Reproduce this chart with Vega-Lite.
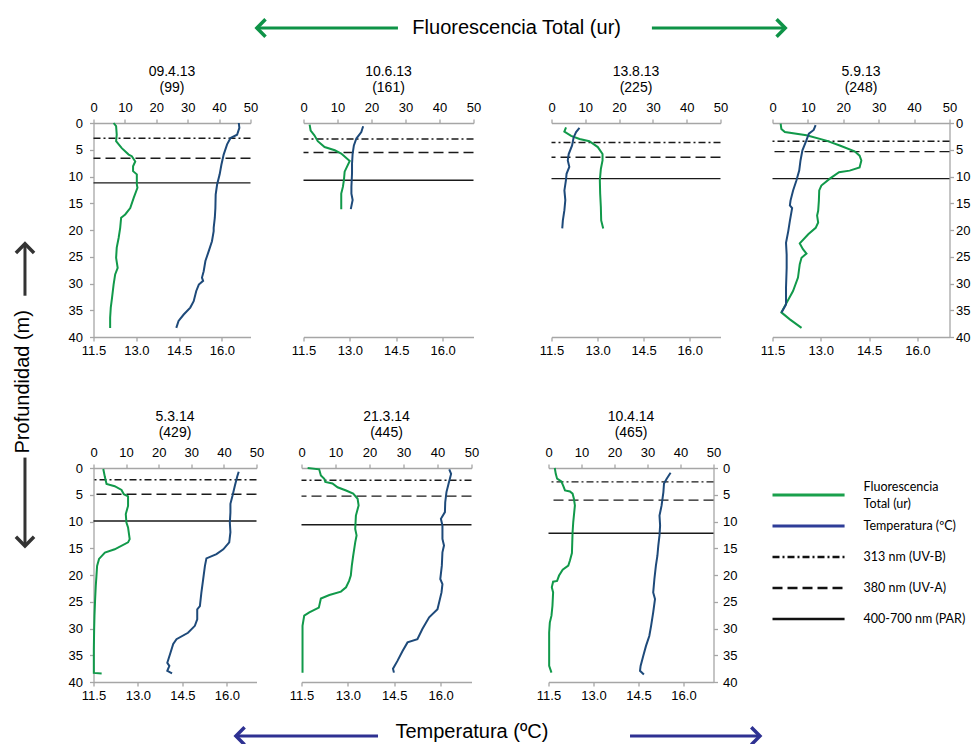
{
  "$schema": "https://vega.github.io/schema/vega-lite/v6.json",
  "padding": 0,
  "background": "white",
  "config": {
    "font": "Liberation Sans",
    "view": {"stroke": null},
    "axis": {
      "labelFont": "Liberation Sans",
      "labelFontSize": 13,
      "labelColor": "#000000",
      "domainColor": "#a6a6a6",
      "tickColor": "#a6a6a6",
      "domainWidth": 1.3,
      "tickWidth": 1.3,
      "tickSize": 4,
      "grid": false,
      "labelFlush": false,
      "labelOverlap": false
    },
    "title": {"font": "Liberation Sans", "fontSize": 14, "fontWeight": "normal", "color": "#000000", "lineHeight": 16, "offset": 6, "frame": "group", "anchor": "middle"}
  },
  "datasets": {
    "capas": [
      {"fecha": "09.4.13", "banda": "UV-B", "prof": 2.85},
      {"fecha": "09.4.13", "banda": "UV-A", "prof": 6.6},
      {"fecha": "09.4.13", "banda": "PAR", "prof": 11.2},
      {"fecha": "10.6.13", "banda": "UV-B", "prof": 3.0},
      {"fecha": "10.6.13", "banda": "UV-A", "prof": 5.5},
      {"fecha": "10.6.13", "banda": "PAR", "prof": 10.7},
      {"fecha": "13.8.13", "banda": "UV-B", "prof": 3.65},
      {"fecha": "13.8.13", "banda": "UV-A", "prof": 6.4},
      {"fecha": "13.8.13", "banda": "PAR", "prof": 10.4},
      {"fecha": "5.9.13", "banda": "UV-B", "prof": 3.4},
      {"fecha": "5.9.13", "banda": "UV-A", "prof": 5.35},
      {"fecha": "5.9.13", "banda": "PAR", "prof": 10.4},
      {"fecha": "5.3.14", "banda": "UV-B", "prof": 2.2},
      {"fecha": "5.3.14", "banda": "UV-A", "prof": 4.9},
      {"fecha": "5.3.14", "banda": "PAR", "prof": 9.9},
      {"fecha": "21.3.14", "banda": "UV-B", "prof": 2.3},
      {"fecha": "21.3.14", "banda": "UV-A", "prof": 5.25},
      {"fecha": "21.3.14", "banda": "PAR", "prof": 10.6},
      {"fecha": "10.4.14", "banda": "UV-B", "prof": 2.6},
      {"fecha": "10.4.14", "banda": "UV-A", "prof": 6.0},
      {"fecha": "10.4.14", "banda": "PAR", "prof": 12.2}
    ],
    "leyenda": [
      {"orden": 1, "tipo": "curva", "serie": "Fluorescencia", "etiqueta": "Fluorescencia\nTotal (ur)"},
      {"orden": 2, "tipo": "curva", "serie": "Temperatura", "etiqueta": "Temperatura (ºC)"},
      {"orden": 3, "tipo": "capa", "banda": "UV-B", "etiqueta": "313 nm (UV-B)"},
      {"orden": 4, "tipo": "capa", "banda": "UV-A", "etiqueta": "380 nm (UV-A)"},
      {"orden": 5, "tipo": "capa", "banda": "PAR", "etiqueta": "400-700 nm (PAR)"}
    ],
    "perfiles": [
      {"fecha": "09.4.13", "serie": "Fluorescencia", "prof": 0, "valor": 6.4},
      {"fecha": "09.4.13", "serie": "Fluorescencia", "prof": 0.6, "valor": 7.2},
      {"fecha": "09.4.13", "serie": "Fluorescencia", "prof": 2.2, "valor": 7.4},
      {"fecha": "09.4.13", "serie": "Fluorescencia", "prof": 3.4, "valor": 7.2},
      {"fecha": "09.4.13", "serie": "Fluorescencia", "prof": 4.7, "valor": 9.0},
      {"fecha": "09.4.13", "serie": "Fluorescencia", "prof": 5.9, "valor": 11.2},
      {"fecha": "09.4.13", "serie": "Fluorescencia", "prof": 6.2, "valor": 12.2},
      {"fecha": "09.4.13", "serie": "Fluorescencia", "prof": 7.2, "valor": 13.3},
      {"fecha": "09.4.13", "serie": "Fluorescencia", "prof": 8.1, "valor": 12.6},
      {"fecha": "09.4.13", "serie": "Fluorescencia", "prof": 9.0, "valor": 12.6},
      {"fecha": "09.4.13", "serie": "Fluorescencia", "prof": 9.6, "valor": 13.8},
      {"fecha": "09.4.13", "serie": "Fluorescencia", "prof": 11.5, "valor": 13.8},
      {"fecha": "09.4.13", "serie": "Fluorescencia", "prof": 12.1, "valor": 14.0},
      {"fecha": "09.4.13", "serie": "Fluorescencia", "prof": 14.0, "valor": 12.8},
      {"fecha": "09.4.13", "serie": "Fluorescencia", "prof": 15.9, "valor": 11.7},
      {"fecha": "09.4.13", "serie": "Fluorescencia", "prof": 17.1, "valor": 10.1},
      {"fecha": "09.4.13", "serie": "Fluorescencia", "prof": 17.7, "valor": 8.8},
      {"fecha": "09.4.13", "serie": "Fluorescencia", "prof": 19.6, "valor": 8.5},
      {"fecha": "09.4.13", "serie": "Fluorescencia", "prof": 21.5, "valor": 8.0},
      {"fecha": "09.4.13", "serie": "Fluorescencia", "prof": 23.3, "valor": 7.4},
      {"fecha": "09.4.13", "serie": "Fluorescencia", "prof": 25.2, "valor": 7.2},
      {"fecha": "09.4.13", "serie": "Fluorescencia", "prof": 27.1, "valor": 7.7},
      {"fecha": "09.4.13", "serie": "Fluorescencia", "prof": 28.3, "valor": 6.9},
      {"fecha": "09.4.13", "serie": "Fluorescencia", "prof": 30.2, "valor": 6.4},
      {"fecha": "09.4.13", "serie": "Fluorescencia", "prof": 32.7, "valor": 5.9},
      {"fecha": "09.4.13", "serie": "Fluorescencia", "prof": 34.5, "valor": 5.5},
      {"fecha": "09.4.13", "serie": "Fluorescencia", "prof": 36.4, "valor": 5.3},
      {"fecha": "09.4.13", "serie": "Fluorescencia", "prof": 38.3, "valor": 5.3},
      {"fecha": "09.4.13", "serie": "Temperatura", "prof": 0, "valor": 16.59},
      {"fecha": "09.4.13", "serie": "Temperatura", "prof": 0.9, "valor": 16.61},
      {"fecha": "09.4.13", "serie": "Temperatura", "prof": 2.2, "valor": 16.53},
      {"fecha": "09.4.13", "serie": "Temperatura", "prof": 2.8, "valor": 16.30},
      {"fecha": "09.4.13", "serie": "Temperatura", "prof": 4.0, "valor": 16.18},
      {"fecha": "09.4.13", "serie": "Temperatura", "prof": 5.9, "valor": 16.06},
      {"fecha": "09.4.13", "serie": "Temperatura", "prof": 7.8, "valor": 15.98},
      {"fecha": "09.4.13", "serie": "Temperatura", "prof": 9.6, "valor": 15.92},
      {"fecha": "09.4.13", "serie": "Temperatura", "prof": 11.5, "valor": 15.83},
      {"fecha": "09.4.13", "serie": "Temperatura", "prof": 13.4, "valor": 15.78},
      {"fecha": "09.4.13", "serie": "Temperatura", "prof": 15.9, "valor": 15.77},
      {"fecha": "09.4.13", "serie": "Temperatura", "prof": 17.7, "valor": 15.75},
      {"fecha": "09.4.13", "serie": "Temperatura", "prof": 19.6, "valor": 15.71},
      {"fecha": "09.4.13", "serie": "Temperatura", "prof": 20.2, "valor": 15.71},
      {"fecha": "09.4.13", "serie": "Temperatura", "prof": 22.1, "valor": 15.65},
      {"fecha": "09.4.13", "serie": "Temperatura", "prof": 23.9, "valor": 15.54},
      {"fecha": "09.4.13", "serie": "Temperatura", "prof": 25.8, "valor": 15.42},
      {"fecha": "09.4.13", "serie": "Temperatura", "prof": 27.7, "valor": 15.36},
      {"fecha": "09.4.13", "serie": "Temperatura", "prof": 28.9, "valor": 15.30},
      {"fecha": "09.4.13", "serie": "Temperatura", "prof": 29.5, "valor": 15.34},
      {"fecha": "09.4.13", "serie": "Temperatura", "prof": 30.2, "valor": 15.19},
      {"fecha": "09.4.13", "serie": "Temperatura", "prof": 31.4, "valor": 15.10},
      {"fecha": "09.4.13", "serie": "Temperatura", "prof": 33.3, "valor": 15.01},
      {"fecha": "09.4.13", "serie": "Temperatura", "prof": 34.5, "valor": 14.89},
      {"fecha": "09.4.13", "serie": "Temperatura", "prof": 35.8, "valor": 14.66},
      {"fecha": "09.4.13", "serie": "Temperatura", "prof": 37.0, "valor": 14.48},
      {"fecha": "09.4.13", "serie": "Temperatura", "prof": 38.3, "valor": 14.40},

      {"fecha": "10.6.13", "serie": "Fluorescencia", "prof": 0.3, "valor": 1.8},
      {"fecha": "10.6.13", "serie": "Fluorescencia", "prof": 1.4, "valor": 2.1},
      {"fecha": "10.6.13", "serie": "Fluorescencia", "prof": 2.3, "valor": 3.2},
      {"fecha": "10.6.13", "serie": "Fluorescencia", "prof": 3.4, "valor": 4.2},
      {"fecha": "10.6.13", "serie": "Fluorescencia", "prof": 4.5, "valor": 6.2},
      {"fecha": "10.6.13", "serie": "Fluorescencia", "prof": 5.1, "valor": 9.2},
      {"fecha": "10.6.13", "serie": "Fluorescencia", "prof": 5.7, "valor": 11.1},
      {"fecha": "10.6.13", "serie": "Fluorescencia", "prof": 7.1, "valor": 13.6},
      {"fecha": "10.6.13", "serie": "Fluorescencia", "prof": 9.1, "valor": 12.1},
      {"fecha": "10.6.13", "serie": "Fluorescencia", "prof": 10.6, "valor": 11.9},
      {"fecha": "10.6.13", "serie": "Fluorescencia", "prof": 11.9, "valor": 11.6},
      {"fecha": "10.6.13", "serie": "Fluorescencia", "prof": 13.2, "valor": 11.1},
      {"fecha": "10.6.13", "serie": "Fluorescencia", "prof": 16.1, "valor": 11.1},
      {"fecha": "10.6.13", "serie": "Temperatura", "prof": 0.6, "valor": 13.43},
      {"fecha": "10.6.13", "serie": "Temperatura", "prof": 1.7, "valor": 13.37},
      {"fecha": "10.6.13", "serie": "Temperatura", "prof": 2.9, "valor": 13.21},
      {"fecha": "10.6.13", "serie": "Temperatura", "prof": 4.2, "valor": 13.13},
      {"fecha": "10.6.13", "serie": "Temperatura", "prof": 5.7, "valor": 13.09},
      {"fecha": "10.6.13", "serie": "Temperatura", "prof": 7.6, "valor": 13.07},
      {"fecha": "10.6.13", "serie": "Temperatura", "prof": 9.4, "valor": 13.07},
      {"fecha": "10.6.13", "serie": "Temperatura", "prof": 11.9, "valor": 13.05},
      {"fecha": "10.6.13", "serie": "Temperatura", "prof": 13.2, "valor": 13.05},
      {"fecha": "10.6.13", "serie": "Temperatura", "prof": 14.4, "valor": 13.09},
      {"fecha": "10.6.13", "serie": "Temperatura", "prof": 16.1, "valor": 13.03},

      {"fecha": "13.8.13", "serie": "Fluorescencia", "prof": 0.8, "valor": 4.3},
      {"fecha": "13.8.13", "serie": "Fluorescencia", "prof": 1.6, "valor": 3.8},
      {"fecha": "13.8.13", "serie": "Fluorescencia", "prof": 2.4, "valor": 5.8},
      {"fecha": "13.8.13", "serie": "Fluorescencia", "prof": 3.0, "valor": 8.3},
      {"fecha": "13.8.13", "serie": "Fluorescencia", "prof": 3.4, "valor": 11.2},
      {"fecha": "13.8.13", "serie": "Fluorescencia", "prof": 4.5, "valor": 13.7},
      {"fecha": "13.8.13", "serie": "Fluorescencia", "prof": 5.8, "valor": 15.1},
      {"fecha": "13.8.13", "serie": "Fluorescencia", "prof": 7.0, "valor": 15.1},
      {"fecha": "13.8.13", "serie": "Fluorescencia", "prof": 8.6, "valor": 14.6},
      {"fecha": "13.8.13", "serie": "Fluorescencia", "prof": 10.7, "valor": 14.3},
      {"fecha": "13.8.13", "serie": "Fluorescencia", "prof": 13.2, "valor": 14.4},
      {"fecha": "13.8.13", "serie": "Fluorescencia", "prof": 15.7, "valor": 14.6},
      {"fecha": "13.8.13", "serie": "Fluorescencia", "prof": 18.2, "valor": 14.7},
      {"fecha": "13.8.13", "serie": "Fluorescencia", "prof": 19.7, "valor": 15.3},
      {"fecha": "13.8.13", "serie": "Temperatura", "prof": 0.9, "valor": 12.41},
      {"fecha": "13.8.13", "serie": "Temperatura", "prof": 1.7, "valor": 12.30},
      {"fecha": "13.8.13", "serie": "Temperatura", "prof": 2.7, "valor": 12.22},
      {"fecha": "13.8.13", "serie": "Temperatura", "prof": 4.2, "valor": 12.17},
      {"fecha": "13.8.13", "serie": "Temperatura", "prof": 5.8, "valor": 12.06},
      {"fecha": "13.8.13", "serie": "Temperatura", "prof": 7.0, "valor": 12.03},
      {"fecha": "13.8.13", "serie": "Temperatura", "prof": 8.2, "valor": 12.08},
      {"fecha": "13.8.13", "serie": "Temperatura", "prof": 9.5, "valor": 11.99},
      {"fecha": "13.8.13", "serie": "Temperatura", "prof": 10.7, "valor": 11.97},
      {"fecha": "13.8.13", "serie": "Temperatura", "prof": 12.6, "valor": 11.92},
      {"fecha": "13.8.13", "serie": "Temperatura", "prof": 14.4, "valor": 11.95},
      {"fecha": "13.8.13", "serie": "Temperatura", "prof": 16.3, "valor": 11.92},
      {"fecha": "13.8.13", "serie": "Temperatura", "prof": 18.2, "valor": 11.87},
      {"fecha": "13.8.13", "serie": "Temperatura", "prof": 19.7, "valor": 11.85},

      {"fecha": "5.9.13", "serie": "Fluorescencia", "prof": 0.1, "valor": 2.3},
      {"fecha": "5.9.13", "serie": "Fluorescencia", "prof": 1.1, "valor": 2.5},
      {"fecha": "5.9.13", "serie": "Fluorescencia", "prof": 1.7, "valor": 3.5},
      {"fecha": "5.9.13", "serie": "Fluorescencia", "prof": 2.3, "valor": 9.6},
      {"fecha": "5.9.13", "serie": "Fluorescencia", "prof": 3.3, "valor": 15.2},
      {"fecha": "5.9.13", "serie": "Fluorescencia", "prof": 4.2, "valor": 19.0},
      {"fecha": "5.9.13", "serie": "Fluorescencia", "prof": 5.3, "valor": 23.2},
      {"fecha": "5.9.13", "serie": "Fluorescencia", "prof": 6.1, "valor": 24.6},
      {"fecha": "5.9.13", "serie": "Fluorescencia", "prof": 7.0, "valor": 25.1},
      {"fecha": "5.9.13", "serie": "Fluorescencia", "prof": 8.3, "valor": 24.6},
      {"fecha": "5.9.13", "serie": "Fluorescencia", "prof": 8.9, "valor": 21.8},
      {"fecha": "5.9.13", "serie": "Fluorescencia", "prof": 9.2, "valor": 18.8},
      {"fecha": "5.9.13", "serie": "Fluorescencia", "prof": 10.4, "valor": 16.2},
      {"fecha": "5.9.13", "serie": "Fluorescencia", "prof": 11.7, "valor": 13.8},
      {"fecha": "5.9.13", "serie": "Fluorescencia", "prof": 12.6, "valor": 13.2},
      {"fecha": "5.9.13", "serie": "Fluorescencia", "prof": 14.5, "valor": 13.1},
      {"fecha": "5.9.13", "serie": "Fluorescencia", "prof": 16.4, "valor": 12.9},
      {"fecha": "5.9.13", "serie": "Fluorescencia", "prof": 17.3, "valor": 12.6},
      {"fecha": "5.9.13", "serie": "Fluorescencia", "prof": 18.6, "valor": 12.9},
      {"fecha": "5.9.13", "serie": "Fluorescencia", "prof": 19.6, "valor": 12.2},
      {"fecha": "5.9.13", "serie": "Fluorescencia", "prof": 20.8, "valor": 10.1},
      {"fecha": "5.9.13", "serie": "Fluorescencia", "prof": 22.5, "valor": 7.7},
      {"fecha": "5.9.13", "serie": "Fluorescencia", "prof": 23.6, "valor": 8.6},
      {"fecha": "5.9.13", "serie": "Fluorescencia", "prof": 24.4, "valor": 9.6},
      {"fecha": "5.9.13", "serie": "Fluorescencia", "prof": 25.2, "valor": 8.2},
      {"fecha": "5.9.13", "serie": "Fluorescencia", "prof": 26.4, "valor": 7.7},
      {"fecha": "5.9.13", "serie": "Fluorescencia", "prof": 28.9, "valor": 7.2},
      {"fecha": "5.9.13", "serie": "Fluorescencia", "prof": 31.4, "valor": 5.8},
      {"fecha": "5.9.13", "serie": "Fluorescencia", "prof": 35.4, "valor": 2.5},
      {"fecha": "5.9.13", "serie": "Fluorescencia", "prof": 36.7, "valor": 4.9},
      {"fecha": "5.9.13", "serie": "Fluorescencia", "prof": 38.3, "valor": 8.2},
      {"fecha": "5.9.13", "serie": "Temperatura", "prof": 0.4, "valor": 12.84},
      {"fecha": "5.9.13", "serie": "Temperatura", "prof": 1.3, "valor": 12.78},
      {"fecha": "5.9.13", "serie": "Temperatura", "prof": 2.0, "valor": 12.63},
      {"fecha": "5.9.13", "serie": "Temperatura", "prof": 3.3, "valor": 12.55},
      {"fecha": "5.9.13", "serie": "Temperatura", "prof": 5.1, "valor": 12.43},
      {"fecha": "5.9.13", "serie": "Temperatura", "prof": 7.0, "valor": 12.37},
      {"fecha": "5.9.13", "serie": "Temperatura", "prof": 8.9, "valor": 12.33},
      {"fecha": "5.9.13", "serie": "Temperatura", "prof": 10.8, "valor": 12.24},
      {"fecha": "5.9.13", "serie": "Temperatura", "prof": 12.6, "valor": 12.14},
      {"fecha": "5.9.13", "serie": "Temperatura", "prof": 14.5, "valor": 12.06},
      {"fecha": "5.9.13", "serie": "Temperatura", "prof": 15.4, "valor": 12.04},
      {"fecha": "5.9.13", "serie": "Temperatura", "prof": 15.9, "valor": 12.11},
      {"fecha": "5.9.13", "serie": "Temperatura", "prof": 18.3, "valor": 12.04},
      {"fecha": "5.9.13", "serie": "Temperatura", "prof": 20.2, "valor": 11.99},
      {"fecha": "5.9.13", "serie": "Temperatura", "prof": 22.4, "valor": 11.92},
      {"fecha": "5.9.13", "serie": "Temperatura", "prof": 24.6, "valor": 11.94},
      {"fecha": "5.9.13", "serie": "Temperatura", "prof": 27.1, "valor": 11.94},
      {"fecha": "5.9.13", "serie": "Temperatura", "prof": 30.8, "valor": 11.92},
      {"fecha": "5.9.13", "serie": "Temperatura", "prof": 33.9, "valor": 11.92},
      {"fecha": "5.9.13", "serie": "Temperatura", "prof": 35.4, "valor": 11.78},

      {"fecha": "5.3.14", "serie": "Fluorescencia", "prof": 0.2, "valor": 3.0},
      {"fecha": "5.3.14", "serie": "Fluorescencia", "prof": 1.7, "valor": 3.5},
      {"fecha": "5.3.14", "serie": "Fluorescencia", "prof": 3.0, "valor": 4.0},
      {"fecha": "5.3.14", "serie": "Fluorescencia", "prof": 3.4, "valor": 6.5},
      {"fecha": "5.3.14", "serie": "Fluorescencia", "prof": 4.1, "valor": 8.6},
      {"fecha": "5.3.14", "serie": "Fluorescencia", "prof": 4.9, "valor": 9.3},
      {"fecha": "5.3.14", "serie": "Fluorescencia", "prof": 5.3, "valor": 10.6},
      {"fecha": "5.3.14", "serie": "Fluorescencia", "prof": 7.1, "valor": 10.6},
      {"fecha": "5.3.14", "serie": "Fluorescencia", "prof": 8.6, "valor": 9.9},
      {"fecha": "5.3.14", "serie": "Fluorescencia", "prof": 10.2, "valor": 10.1},
      {"fecha": "5.3.14", "serie": "Fluorescencia", "prof": 11.1, "valor": 10.6},
      {"fecha": "5.3.14", "serie": "Fluorescencia", "prof": 13.3, "valor": 11.1},
      {"fecha": "5.3.14", "serie": "Fluorescencia", "prof": 13.9, "valor": 10.6},
      {"fecha": "5.3.14", "serie": "Fluorescencia", "prof": 15.2, "valor": 6.5},
      {"fecha": "5.3.14", "serie": "Fluorescencia", "prof": 15.8, "valor": 3.5},
      {"fecha": "5.3.14", "serie": "Fluorescencia", "prof": 17.0, "valor": 1.7},
      {"fecha": "5.3.14", "serie": "Fluorescencia", "prof": 18.3, "valor": 1.1},
      {"fecha": "5.3.14", "serie": "Fluorescencia", "prof": 20.2, "valor": 0.9},
      {"fecha": "5.3.14", "serie": "Fluorescencia", "prof": 22.0, "valor": 0.7},
      {"fecha": "5.3.14", "serie": "Fluorescencia", "prof": 24.5, "valor": 0.5},
      {"fecha": "5.3.14", "serie": "Fluorescencia", "prof": 27.6, "valor": 0.3},
      {"fecha": "5.3.14", "serie": "Fluorescencia", "prof": 30.1, "valor": 0.2},
      {"fecha": "5.3.14", "serie": "Fluorescencia", "prof": 33.9, "valor": 0.1},
      {"fecha": "5.3.14", "serie": "Fluorescencia", "prof": 38.3, "valor": 0.1},
      {"fecha": "5.3.14", "serie": "Fluorescencia", "prof": 38.4, "valor": 2.5},
      {"fecha": "5.3.14", "serie": "Temperatura", "prof": 0.7, "valor": 16.40},
      {"fecha": "5.3.14", "serie": "Temperatura", "prof": 1.6, "valor": 16.35},
      {"fecha": "5.3.14", "serie": "Temperatura", "prof": 3.3, "valor": 16.27},
      {"fecha": "5.3.14", "serie": "Temperatura", "prof": 5.2, "valor": 16.19},
      {"fecha": "5.3.14", "serie": "Temperatura", "prof": 6.7, "valor": 16.12},
      {"fecha": "5.3.14", "serie": "Temperatura", "prof": 8.3, "valor": 16.12},
      {"fecha": "5.3.14", "serie": "Temperatura", "prof": 10.2, "valor": 16.10},
      {"fecha": "5.3.14", "serie": "Temperatura", "prof": 12.0, "valor": 16.12},
      {"fecha": "5.3.14", "serie": "Temperatura", "prof": 13.9, "valor": 16.08},
      {"fecha": "5.3.14", "serie": "Temperatura", "prof": 15.2, "valor": 15.88},
      {"fecha": "5.3.14", "serie": "Temperatura", "prof": 16.1, "valor": 15.65},
      {"fecha": "5.3.14", "serie": "Temperatura", "prof": 16.9, "valor": 15.31},
      {"fecha": "5.3.14", "serie": "Temperatura", "prof": 18.3, "valor": 15.26},
      {"fecha": "5.3.14", "serie": "Temperatura", "prof": 20.8, "valor": 15.20},
      {"fecha": "5.3.14", "serie": "Temperatura", "prof": 23.3, "valor": 15.14},
      {"fecha": "5.3.14", "serie": "Temperatura", "prof": 25.8, "valor": 15.09},
      {"fecha": "5.3.14", "serie": "Temperatura", "prof": 26.4, "valor": 15.00},
      {"fecha": "5.3.14", "serie": "Temperatura", "prof": 28.3, "valor": 15.00},
      {"fecha": "5.3.14", "serie": "Temperatura", "prof": 29.5, "valor": 14.92},
      {"fecha": "5.3.14", "serie": "Temperatura", "prof": 30.8, "valor": 14.69},
      {"fecha": "5.3.14", "serie": "Temperatura", "prof": 32.0, "valor": 14.30},
      {"fecha": "5.3.14", "serie": "Temperatura", "prof": 32.9, "valor": 14.19},
      {"fecha": "5.3.14", "serie": "Temperatura", "prof": 34.5, "valor": 14.10},
      {"fecha": "5.3.14", "serie": "Temperatura", "prof": 36.4, "valor": 13.99},
      {"fecha": "5.3.14", "serie": "Temperatura", "prof": 37.0, "valor": 14.06},
      {"fecha": "5.3.14", "serie": "Temperatura", "prof": 37.9, "valor": 13.99},
      {"fecha": "5.3.14", "serie": "Temperatura", "prof": 38.4, "valor": 14.15},

      {"fecha": "21.3.14", "serie": "Fluorescencia", "prof": 0, "valor": 1.8},
      {"fecha": "21.3.14", "serie": "Fluorescencia", "prof": 0.25, "valor": 5.2},
      {"fecha": "21.3.14", "serie": "Fluorescencia", "prof": 1.4, "valor": 5.7},
      {"fecha": "21.3.14", "serie": "Fluorescencia", "prof": 2.0, "valor": 6.7},
      {"fecha": "21.3.14", "serie": "Fluorescencia", "prof": 2.6, "valor": 7.0},
      {"fecha": "21.3.14", "serie": "Fluorescencia", "prof": 2.9, "valor": 9.1},
      {"fecha": "21.3.14", "serie": "Fluorescencia", "prof": 3.6, "valor": 10.6},
      {"fecha": "21.3.14", "serie": "Fluorescencia", "prof": 4.2, "valor": 13.1},
      {"fecha": "21.3.14", "serie": "Fluorescencia", "prof": 4.8, "valor": 15.2},
      {"fecha": "21.3.14", "serie": "Fluorescencia", "prof": 5.75, "valor": 16.5},
      {"fecha": "21.3.14", "serie": "Fluorescencia", "prof": 7.0, "valor": 16.8},
      {"fecha": "21.3.14", "serie": "Fluorescencia", "prof": 8.9, "valor": 16.0},
      {"fecha": "21.3.14", "serie": "Fluorescencia", "prof": 11.4, "valor": 15.8},
      {"fecha": "21.3.14", "serie": "Fluorescencia", "prof": 12.6, "valor": 16.2},
      {"fecha": "21.3.14", "serie": "Fluorescencia", "prof": 13.9, "valor": 15.8},
      {"fecha": "21.3.14", "serie": "Fluorescencia", "prof": 16.4, "valor": 15.2},
      {"fecha": "21.3.14", "serie": "Fluorescencia", "prof": 18.25, "valor": 14.8},
      {"fecha": "21.3.14", "serie": "Fluorescencia", "prof": 20.1, "valor": 14.5},
      {"fecha": "21.3.14", "serie": "Fluorescencia", "prof": 21.1, "valor": 14.0},
      {"fecha": "21.3.14", "serie": "Fluorescencia", "prof": 22.3, "valor": 13.1},
      {"fecha": "21.3.14", "serie": "Fluorescencia", "prof": 23.1, "valor": 11.6},
      {"fecha": "21.3.14", "serie": "Fluorescencia", "prof": 23.75, "valor": 8.2},
      {"fecha": "21.3.14", "serie": "Fluorescencia", "prof": 24.4, "valor": 5.7},
      {"fecha": "21.3.14", "serie": "Fluorescencia", "prof": 26.1, "valor": 5.1},
      {"fecha": "21.3.14", "serie": "Fluorescencia", "prof": 27.0, "valor": 2.3},
      {"fecha": "21.3.14", "serie": "Fluorescencia", "prof": 27.6, "valor": 0.8},
      {"fecha": "21.3.14", "serie": "Fluorescencia", "prof": 29.5, "valor": 0.3},
      {"fecha": "21.3.14", "serie": "Fluorescencia", "prof": 38.25, "valor": 0.3},
      {"fecha": "21.3.14", "serie": "Temperatura", "prof": 0.25, "valor": 16.28},
      {"fecha": "21.3.14", "serie": "Temperatura", "prof": 1.1, "valor": 16.34},
      {"fecha": "21.3.14", "serie": "Temperatura", "prof": 2.9, "valor": 16.26},
      {"fecha": "21.3.14", "serie": "Temperatura", "prof": 4.5, "valor": 16.19},
      {"fecha": "21.3.14", "serie": "Temperatura", "prof": 6.4, "valor": 16.15},
      {"fecha": "21.3.14", "serie": "Temperatura", "prof": 8.25, "valor": 16.14},
      {"fecha": "21.3.14", "serie": "Temperatura", "prof": 9.5, "valor": 16.01},
      {"fecha": "21.3.14", "serie": "Temperatura", "prof": 10.75, "valor": 16.06},
      {"fecha": "21.3.14", "serie": "Temperatura", "prof": 13.25, "valor": 16.06},
      {"fecha": "21.3.14", "serie": "Temperatura", "prof": 14.5, "valor": 16.11},
      {"fecha": "21.3.14", "serie": "Temperatura", "prof": 15.75, "valor": 16.06},
      {"fecha": "21.3.14", "serie": "Temperatura", "prof": 18.25, "valor": 16.04},
      {"fecha": "21.3.14", "serie": "Temperatura", "prof": 20.75, "valor": 15.99},
      {"fecha": "21.3.14", "serie": "Temperatura", "prof": 21.7, "valor": 16.06},
      {"fecha": "21.3.14", "serie": "Temperatura", "prof": 23.25, "valor": 16.03},
      {"fecha": "21.3.14", "serie": "Temperatura", "prof": 26.4, "valor": 15.90},
      {"fecha": "21.3.14", "serie": "Temperatura", "prof": 27.9, "valor": 15.63},
      {"fecha": "21.3.14", "serie": "Temperatura", "prof": 30.1, "valor": 15.41},
      {"fecha": "21.3.14", "serie": "Temperatura", "prof": 32.0, "valor": 15.25},
      {"fecha": "21.3.14", "serie": "Temperatura", "prof": 32.6, "valor": 14.93},
      {"fecha": "21.3.14", "serie": "Temperatura", "prof": 34.2, "valor": 14.77},
      {"fecha": "21.3.14", "serie": "Temperatura", "prof": 36.1, "valor": 14.60},
      {"fecha": "21.3.14", "serie": "Temperatura", "prof": 37.5, "valor": 14.46},
      {"fecha": "21.3.14", "serie": "Temperatura", "prof": 38.25, "valor": 14.49},

      {"fecha": "10.4.14", "serie": "Fluorescencia", "prof": 0, "valor": 1.9},
      {"fecha": "10.4.14", "serie": "Fluorescencia", "prof": 1.1, "valor": 2.2},
      {"fecha": "10.4.14", "serie": "Fluorescencia", "prof": 2.0, "valor": 2.6},
      {"fecha": "10.4.14", "serie": "Fluorescencia", "prof": 2.5, "valor": 3.9},
      {"fecha": "10.4.14", "serie": "Fluorescencia", "prof": 3.4, "valor": 4.5},
      {"fecha": "10.4.14", "serie": "Fluorescencia", "prof": 4.2, "valor": 5.0},
      {"fecha": "10.4.14", "serie": "Fluorescencia", "prof": 4.4, "valor": 6.5},
      {"fecha": "10.4.14", "serie": "Fluorescencia", "prof": 4.8, "valor": 7.3},
      {"fecha": "10.4.14", "serie": "Fluorescencia", "prof": 5.75, "valor": 7.7},
      {"fecha": "10.4.14", "serie": "Fluorescencia", "prof": 7.0, "valor": 8.0},
      {"fecha": "10.4.14", "serie": "Fluorescencia", "prof": 8.25, "valor": 7.8},
      {"fecha": "10.4.14", "serie": "Fluorescencia", "prof": 10.1, "valor": 7.5},
      {"fecha": "10.4.14", "serie": "Fluorescencia", "prof": 12.0, "valor": 7.3},
      {"fecha": "10.4.14", "serie": "Fluorescencia", "prof": 13.9, "valor": 7.2},
      {"fecha": "10.4.14", "serie": "Fluorescencia", "prof": 15.9, "valor": 7.1},
      {"fecha": "10.4.14", "serie": "Fluorescencia", "prof": 17.3, "valor": 6.5},
      {"fecha": "10.4.14", "serie": "Fluorescencia", "prof": 18.25, "valor": 6.0},
      {"fecha": "10.4.14", "serie": "Fluorescencia", "prof": 19.0, "valor": 4.3},
      {"fecha": "10.4.14", "serie": "Fluorescencia", "prof": 20.1, "valor": 3.2},
      {"fecha": "10.4.14", "serie": "Fluorescencia", "prof": 21.1, "valor": 2.6},
      {"fecha": "10.4.14", "serie": "Fluorescencia", "prof": 21.25, "valor": 1.4},
      {"fecha": "10.4.14", "serie": "Fluorescencia", "prof": 22.3, "valor": 1.0},
      {"fecha": "10.4.14", "serie": "Fluorescencia", "prof": 23.25, "valor": 1.4},
      {"fecha": "10.4.14", "serie": "Fluorescencia", "prof": 25.75, "valor": 1.2},
      {"fecha": "10.4.14", "serie": "Fluorescencia", "prof": 27.6, "valor": 0.9},
      {"fecha": "10.4.14", "serie": "Fluorescencia", "prof": 28.9, "valor": 0.4},
      {"fecha": "10.4.14", "serie": "Fluorescencia", "prof": 30.75, "valor": 0.2},
      {"fecha": "10.4.14", "serie": "Fluorescencia", "prof": 37.0, "valor": 0.2},
      {"fecha": "10.4.14", "serie": "Fluorescencia", "prof": 38.25, "valor": 0.9},
      {"fecha": "10.4.14", "serie": "Temperatura", "prof": 0.9, "valor": 15.57},
      {"fecha": "10.4.14", "serie": "Temperatura", "prof": 2.0, "valor": 15.44},
      {"fecha": "10.4.14", "serie": "Temperatura", "prof": 2.9, "valor": 15.35},
      {"fecha": "10.4.14", "serie": "Temperatura", "prof": 4.5, "valor": 15.33},
      {"fecha": "10.4.14", "serie": "Temperatura", "prof": 7.0, "valor": 15.27},
      {"fecha": "10.4.14", "serie": "Temperatura", "prof": 8.9, "valor": 15.20},
      {"fecha": "10.4.14", "serie": "Temperatura", "prof": 10.75, "valor": 15.22},
      {"fecha": "10.4.14", "serie": "Temperatura", "prof": 12.6, "valor": 15.20},
      {"fecha": "10.4.14", "serie": "Temperatura", "prof": 14.5, "valor": 15.16},
      {"fecha": "10.4.14", "serie": "Temperatura", "prof": 16.4, "valor": 15.13},
      {"fecha": "10.4.14", "serie": "Temperatura", "prof": 18.25, "valor": 15.08},
      {"fecha": "10.4.14", "serie": "Temperatura", "prof": 20.75, "valor": 15.03},
      {"fecha": "10.4.14", "serie": "Temperatura", "prof": 23.25, "valor": 14.99},
      {"fecha": "10.4.14", "serie": "Temperatura", "prof": 24.5, "valor": 15.05},
      {"fecha": "10.4.14", "serie": "Temperatura", "prof": 27.0, "valor": 14.99},
      {"fecha": "10.4.14", "serie": "Temperatura", "prof": 29.5, "valor": 14.92},
      {"fecha": "10.4.14", "serie": "Temperatura", "prof": 31.4, "valor": 14.86},
      {"fecha": "10.4.14", "serie": "Temperatura", "prof": 33.25, "valor": 14.75},
      {"fecha": "10.4.14", "serie": "Temperatura", "prof": 35.1, "valor": 14.66},
      {"fecha": "10.4.14", "serie": "Temperatura", "prof": 37.0, "valor": 14.57},
      {"fecha": "10.4.14", "serie": "Temperatura", "prof": 37.9, "valor": 14.55},
      {"fecha": "10.4.14", "serie": "Temperatura", "prof": 38.6, "valor": 14.68}
    ]
  },
  "spacing": 0,
  "vconcat": [
    {
      "width": 973,
      "height": 65,
      "data": {"values": [{}]},
      "layer": [
        {"mark": {"type": "rule", "color": "#0e9347", "strokeWidth": 3},
         "encoding": {"x": {"datum": 0.264, "type": "quantitative", "scale": {"domain": [0, 1], "nice": false}, "axis": null}, "x2": {"datum": 0.409},
                      "y": {"datum": 0.431, "type": "quantitative", "scale": {"domain": [0, 1], "reverse": true, "nice": false}, "axis": null}}},
        {"mark": {"type": "rule", "color": "#0e9347", "strokeWidth": 3},
         "encoding": {"x": {"datum": 0.670, "type": "quantitative"}, "x2": {"datum": 0.807}, "y": {"datum": 0.431, "type": "quantitative"}}},
        {"mark": {"type": "point", "shape": "M 1 -1 L 0 0 L 1 1", "filled": false, "size": 300, "strokeWidth": 3.5, "color": "#0e9347", "opacity": 1},
         "encoding": {"x": {"datum": 0.264, "type": "quantitative"}, "y": {"datum": 0.431, "type": "quantitative"}}},
        {"mark": {"type": "point", "shape": "M -1 -1 L 0 0 L -1 1", "filled": false, "size": 300, "strokeWidth": 3.5, "color": "#0e9347", "opacity": 1},
         "encoding": {"x": {"datum": 0.807, "type": "quantitative"}, "y": {"datum": 0.431, "type": "quantitative"}}},
        {"mark": {"type": "text", "text": "Fluorescencia Total (ur)", "font": "Liberation Sans", "fontSize": 20, "align": "center", "baseline": "middle", "color": "#000000"},
         "encoding": {"x": {"datum": 0.531, "type": "quantitative"}, "y": {"datum": 0.431, "type": "quantitative"}}}
      ]
    },
    {
      "spacing": 21.5,
      "hconcat": [
        {
          "width": 46,
          "height": 570,
          "data": {"values": [{}]},
          "layer": [
            {"mark": {"type": "rule", "color": "#333333", "strokeWidth": 3},
             "encoding": {"x": {"datum": 0.543, "type": "quantitative", "scale": {"domain": [0, 1], "nice": false}, "axis": null},
                          "y": {"datum": 0.212, "type": "quantitative", "scale": {"domain": [0, 1], "reverse": true, "nice": false}, "axis": null}, "y2": {"datum": 0.303}}},
            {"mark": {"type": "rule", "color": "#333333", "strokeWidth": 3},
             "encoding": {"x": {"datum": 0.543, "type": "quantitative"}, "y": {"datum": 0.587, "type": "quantitative"}, "y2": {"datum": 0.742}}},
            {"mark": {"type": "point", "shape": "M -1 1 L 0 0 L 1 1", "filled": false, "size": 330, "strokeWidth": 3.5, "color": "#333333", "opacity": 1},
             "encoding": {"x": {"datum": 0.543, "type": "quantitative"}, "y": {"datum": 0.212, "type": "quantitative"}}},
            {"mark": {"type": "point", "shape": "M -1 -1 L 0 0 L 1 -1", "filled": false, "size": 330, "strokeWidth": 3.5, "color": "#333333", "opacity": 1},
             "encoding": {"x": {"datum": 0.543, "type": "quantitative"}, "y": {"datum": 0.742, "type": "quantitative"}}},
            {"mark": {"type": "text", "text": "Profundidad (m)", "angle": 270, "font": "Liberation Sans", "fontSize": 20, "align": "center", "baseline": "middle", "color": "#000000"},
             "encoding": {"x": {"datum": 0.5, "type": "quantitative"}, "y": {"datum": 0.454, "type": "quantitative"}}}
          ]
        },
        {
          "spacing": 53,
          "vconcat": [
            {
              "spacing": 57,
              "hconcat": [
                {
                  "spacing": 32,
                  "hconcat": [
                    {
                      "title": {"text": ["09.4.13", "(99)"]},
                      "width": 157, "height": 214,
                      "encoding": {"y": {"field": "prof", "type": "quantitative", "scale": {"domain": [0, 40], "reverse": true, "nice": false, "zero": false},
                                         "axis": {"orient": "left", "values": [0, 5, 10, 15, 20, 25, 30, 35, 40], "labelPadding": 7, "title": null}}},
                      "layer": [
                        {"data": {"name": "capas"}, "transform": [{"filter": "datum.fecha === '09.4.13'"}],
                         "mark": {"type": "rule", "color": "#1a1a1a", "strokeWidth": 1.4},
                         "encoding": {"strokeDash": {"field": "banda", "type": "nominal", "scale": {"domain": ["UV-B", "UV-A", "PAR"], "range": [[7, 3, 2, 3], [10, 5], [1, 0]]}, "legend": null}}},
                        {"data": {"name": "perfiles"}, "transform": [{"filter": "datum.fecha === '09.4.13' && datum.serie === 'Fluorescencia'"}],
                         "mark": {"type": "line", "color": "#11994a", "strokeWidth": 2},
                         "encoding": {"x": {"field": "valor", "type": "quantitative", "scale": {"domain": [0, 50], "nice": false}, "axis": {"orient": "top", "values": [0, 10, 20, 30, 40, 50], "labelPadding": 5, "title": null}},
                                      "order": {"field": "prof", "type": "quantitative"}}},
                        {"data": {"name": "perfiles"}, "transform": [{"filter": "datum.fecha === '09.4.13' && datum.serie === 'Temperatura'"}],
                         "mark": {"type": "line", "color": "#1e4a7a", "strokeWidth": 2},
                         "encoding": {"x": {"field": "valor", "type": "quantitative", "scale": {"domain": [11.5, 17], "nice": false, "zero": false}, "axis": {"orient": "bottom", "values": [11.5, 13, 14.5, 16], "format": ".1f", "labelPadding": 3, "title": null}},
                                      "order": {"field": "prof", "type": "quantitative"}}}
                      ],
                      "resolve": {"scale": {"x": "independent"}}
                    },
                    {
                      "title": {"text": ["10.6.13", "(161)"]},
                      "width": 170, "height": 214,
                      "encoding": {"y": {"field": "prof", "type": "quantitative", "scale": {"domain": [0, 40], "reverse": true, "nice": false, "zero": false}, "axis": null}},
                      "layer": [
                        {"data": {"name": "capas"}, "transform": [{"filter": "datum.fecha === '10.6.13'"}],
                         "mark": {"type": "rule", "color": "#1a1a1a", "strokeWidth": 1.4},
                         "encoding": {"strokeDash": {"field": "banda", "type": "nominal", "scale": {"domain": ["UV-B", "UV-A", "PAR"], "range": [[7, 3, 2, 3], [10, 5], [1, 0]]}, "legend": null}}},
                        {"data": {"name": "perfiles"}, "transform": [{"filter": "datum.fecha === '10.6.13' && datum.serie === 'Fluorescencia'"}],
                         "mark": {"type": "line", "color": "#11994a", "strokeWidth": 2},
                         "encoding": {"x": {"field": "valor", "type": "quantitative", "scale": {"domain": [0, 50], "nice": false}, "axis": {"orient": "top", "values": [0, 10, 20, 30, 40, 50], "labelPadding": 5, "title": null}},
                                      "order": {"field": "prof", "type": "quantitative"}}},
                        {"data": {"name": "perfiles"}, "transform": [{"filter": "datum.fecha === '10.6.13' && datum.serie === 'Temperatura'"}],
                         "mark": {"type": "line", "color": "#1e4a7a", "strokeWidth": 2},
                         "encoding": {"x": {"field": "valor", "type": "quantitative", "scale": {"domain": [11.5, 17], "nice": false, "zero": false}, "axis": {"orient": "bottom", "values": [11.5, 13, 14.5, 16], "format": ".1f", "labelPadding": 3, "title": null}},
                                      "order": {"field": "prof", "type": "quantitative"}}}
                      ],
                      "resolve": {"scale": {"x": "independent"}}
                    }
                  ]
                },
                {
                  "spacing": 31,
                  "hconcat": [
                    {
                      "title": {"text": ["13.8.13", "(225)"]},
                      "width": 169, "height": 214,
                      "encoding": {"y": {"field": "prof", "type": "quantitative", "scale": {"domain": [0, 40], "reverse": true, "nice": false, "zero": false}, "axis": null}},
                      "layer": [
                        {"data": {"name": "capas"}, "transform": [{"filter": "datum.fecha === '13.8.13'"}],
                         "mark": {"type": "rule", "color": "#1a1a1a", "strokeWidth": 1.4},
                         "encoding": {"strokeDash": {"field": "banda", "type": "nominal", "scale": {"domain": ["UV-B", "UV-A", "PAR"], "range": [[7, 3, 2, 3], [10, 5], [1, 0]]}, "legend": null}}},
                        {"data": {"name": "perfiles"}, "transform": [{"filter": "datum.fecha === '13.8.13' && datum.serie === 'Fluorescencia'"}],
                         "mark": {"type": "line", "color": "#11994a", "strokeWidth": 2},
                         "encoding": {"x": {"field": "valor", "type": "quantitative", "scale": {"domain": [0, 50], "nice": false}, "axis": {"orient": "top", "values": [0, 10, 20, 30, 40, 50], "labelPadding": 5, "title": null}},
                                      "order": {"field": "prof", "type": "quantitative"}}},
                        {"data": {"name": "perfiles"}, "transform": [{"filter": "datum.fecha === '13.8.13' && datum.serie === 'Temperatura'"}],
                         "mark": {"type": "line", "color": "#1e4a7a", "strokeWidth": 2},
                         "encoding": {"x": {"field": "valor", "type": "quantitative", "scale": {"domain": [11.5, 17], "nice": false, "zero": false}, "axis": {"orient": "bottom", "values": [11.5, 13, 14.5, 16], "format": ".1f", "labelPadding": 3, "title": null}},
                                      "order": {"field": "prof", "type": "quantitative"}}}
                      ],
                      "resolve": {"scale": {"x": "independent"}}
                    },
                    {
                      "title": {"text": ["5.9.13", "(248)"]},
                      "width": 177, "height": 214,
                      "encoding": {"y": {"field": "prof", "type": "quantitative", "scale": {"domain": [0, 40], "reverse": true, "nice": false, "zero": false},
                                         "axis": {"orient": "right", "values": [0, 5, 10, 15, 20, 25, 30, 35, 40], "labelPadding": 2, "title": null}}},
                      "layer": [
                        {"data": {"name": "capas"}, "transform": [{"filter": "datum.fecha === '5.9.13'"}],
                         "mark": {"type": "rule", "color": "#1a1a1a", "strokeWidth": 1.4},
                         "encoding": {"strokeDash": {"field": "banda", "type": "nominal", "scale": {"domain": ["UV-B", "UV-A", "PAR"], "range": [[7, 3, 2, 3], [10, 5], [1, 0]]}, "legend": null}}},
                        {"data": {"name": "perfiles"}, "transform": [{"filter": "datum.fecha === '5.9.13' && datum.serie === 'Fluorescencia'"}],
                         "mark": {"type": "line", "color": "#11994a", "strokeWidth": 2},
                         "encoding": {"x": {"field": "valor", "type": "quantitative", "scale": {"domain": [0, 50], "nice": false}, "axis": {"orient": "top", "values": [0, 10, 20, 30, 40, 50], "labelPadding": 5, "title": null}},
                                      "order": {"field": "prof", "type": "quantitative"}}},
                        {"data": {"name": "perfiles"}, "transform": [{"filter": "datum.fecha === '5.9.13' && datum.serie === 'Temperatura'"}],
                         "mark": {"type": "line", "color": "#1e4a7a", "strokeWidth": 2},
                         "encoding": {"x": {"field": "valor", "type": "quantitative", "scale": {"domain": [11.5, 17], "nice": false, "zero": false}, "axis": {"orient": "bottom", "values": [11.5, 13, 14.5, 16], "format": ".1f", "labelPadding": 3, "title": null}},
                                      "order": {"field": "prof", "type": "quantitative"}}}
                      ],
                      "resolve": {"scale": {"x": "independent"}}
                    }
                  ]
                }
              ]
            },
            {
              "spacing": 56,
              "hconcat": [
                {
                  "spacing": 24,
                  "hconcat": [
                    {
                      "title": {"text": ["5.3.14", "(429)"]},
                      "width": 163, "height": 214,
                      "encoding": {"y": {"field": "prof", "type": "quantitative", "scale": {"domain": [0, 40], "reverse": true, "nice": false, "zero": false},
                                         "axis": {"orient": "left", "values": [0, 5, 10, 15, 20, 25, 30, 35, 40], "labelPadding": 7, "title": null}}},
                      "layer": [
                        {"data": {"name": "capas"}, "transform": [{"filter": "datum.fecha === '5.3.14'"}],
                         "mark": {"type": "rule", "color": "#1a1a1a", "strokeWidth": 1.4},
                         "encoding": {"strokeDash": {"field": "banda", "type": "nominal", "scale": {"domain": ["UV-B", "UV-A", "PAR"], "range": [[7, 3, 2, 3], [10, 5], [1, 0]]}, "legend": null}}},
                        {"data": {"name": "perfiles"}, "transform": [{"filter": "datum.fecha === '5.3.14' && datum.serie === 'Fluorescencia'"}],
                         "mark": {"type": "line", "color": "#11994a", "strokeWidth": 2},
                         "encoding": {"x": {"field": "valor", "type": "quantitative", "scale": {"domain": [0, 50], "nice": false}, "axis": {"orient": "top", "values": [0, 10, 20, 30, 40, 50], "labelPadding": 5, "title": null}},
                                      "order": {"field": "prof", "type": "quantitative"}}},
                        {"data": {"name": "perfiles"}, "transform": [{"filter": "datum.fecha === '5.3.14' && datum.serie === 'Temperatura'"}],
                         "mark": {"type": "line", "color": "#1e4a7a", "strokeWidth": 2},
                         "encoding": {"x": {"field": "valor", "type": "quantitative", "scale": {"domain": [11.5, 17], "nice": false, "zero": false}, "axis": {"orient": "bottom", "values": [11.5, 13, 14.5, 16], "format": ".1f", "labelPadding": 3, "title": null}},
                                      "order": {"field": "prof", "type": "quantitative"}}}
                      ],
                      "resolve": {"scale": {"x": "independent"}}
                    },
                    {
                      "title": {"text": ["21.3.14", "(445)"]},
                      "width": 170, "height": 214,
                      "encoding": {"y": {"field": "prof", "type": "quantitative", "scale": {"domain": [0, 40], "reverse": true, "nice": false, "zero": false}, "axis": null}},
                      "layer": [
                        {"data": {"name": "capas"}, "transform": [{"filter": "datum.fecha === '21.3.14'"}],
                         "mark": {"type": "rule", "color": "#1a1a1a", "strokeWidth": 1.4},
                         "encoding": {"strokeDash": {"field": "banda", "type": "nominal", "scale": {"domain": ["UV-B", "UV-A", "PAR"], "range": [[7, 3, 2, 3], [10, 5], [1, 0]]}, "legend": null}}},
                        {"data": {"name": "perfiles"}, "transform": [{"filter": "datum.fecha === '21.3.14' && datum.serie === 'Fluorescencia'"}],
                         "mark": {"type": "line", "color": "#11994a", "strokeWidth": 2},
                         "encoding": {"x": {"field": "valor", "type": "quantitative", "scale": {"domain": [0, 50], "nice": false}, "axis": {"orient": "top", "values": [0, 10, 20, 30, 40, 50], "labelPadding": 5, "title": null}},
                                      "order": {"field": "prof", "type": "quantitative"}}},
                        {"data": {"name": "perfiles"}, "transform": [{"filter": "datum.fecha === '21.3.14' && datum.serie === 'Temperatura'"}],
                         "mark": {"type": "line", "color": "#1e4a7a", "strokeWidth": 2},
                         "encoding": {"x": {"field": "valor", "type": "quantitative", "scale": {"domain": [11.5, 17], "nice": false, "zero": false}, "axis": {"orient": "bottom", "values": [11.5, 13, 14.5, 16], "format": ".1f", "labelPadding": 3, "title": null}},
                                      "order": {"field": "prof", "type": "quantitative"}}}
                      ],
                      "resolve": {"scale": {"x": "independent"}}
                    }
                  ]
                },
                {
                  "spacing": 33,
                  "hconcat": [
                    {
                      "title": {"text": ["10.4.14", "(465)"]},
                      "width": 165, "height": 214,
                      "encoding": {"y": {"field": "prof", "type": "quantitative", "scale": {"domain": [0, 40], "reverse": true, "nice": false, "zero": false},
                                         "axis": {"orient": "right", "values": [0, 5, 10, 15, 20, 25, 30, 35, 40], "labelPadding": 5, "title": null}}},
                      "layer": [
                        {"data": {"name": "capas"}, "transform": [{"filter": "datum.fecha === '10.4.14'"}],
                         "mark": {"type": "rule", "color": "#1a1a1a", "strokeWidth": 1.4},
                         "encoding": {"strokeDash": {"field": "banda", "type": "nominal", "scale": {"domain": ["UV-B", "UV-A", "PAR"], "range": [[7, 3, 2, 3], [10, 5], [1, 0]]}, "legend": null}}},
                        {"data": {"name": "perfiles"}, "transform": [{"filter": "datum.fecha === '10.4.14' && datum.serie === 'Fluorescencia'"}],
                         "mark": {"type": "line", "color": "#11994a", "strokeWidth": 2},
                         "encoding": {"x": {"field": "valor", "type": "quantitative", "scale": {"domain": [0, 50], "nice": false}, "axis": {"orient": "top", "values": [0, 10, 20, 30, 40, 50], "labelPadding": 5, "title": null}},
                                      "order": {"field": "prof", "type": "quantitative"}}},
                        {"data": {"name": "perfiles"}, "transform": [{"filter": "datum.fecha === '10.4.14' && datum.serie === 'Temperatura'"}],
                         "mark": {"type": "line", "color": "#1e4a7a", "strokeWidth": 2},
                         "encoding": {"x": {"field": "valor", "type": "quantitative", "scale": {"domain": [11.5, 17], "nice": false, "zero": false}, "axis": {"orient": "bottom", "values": [11.5, 13, 14.5, 16], "format": ".1f", "labelPadding": 3, "title": null}},
                                      "order": {"field": "prof", "type": "quantitative"}}}
                      ],
                      "resolve": {"scale": {"x": "independent"}}
                    },
                    {
                      "width": 198,
                      "height": 214,
                      "data": {"name": "leyenda"},
                      "encoding": {"y": {"field": "orden", "type": "quantitative", "scale": {"domain": [0.129, 7.032], "reverse": true, "nice": false, "zero": false}, "axis": null}},
                      "layer": [
                        {"transform": [{"filter": "datum.tipo === 'curva'"}],
                         "mark": {"type": "rule", "strokeWidth": 3},
                         "encoding": {"x": {"datum": 0, "type": "quantitative", "scale": {"domain": [0, 1], "nice": false}, "axis": null}, "x2": {"datum": 0.364},
                                      "color": {"field": "serie", "type": "nominal", "scale": {"domain": ["Fluorescencia", "Temperatura"], "range": ["#1aa04c", "#2e3d98"]}, "legend": null}}},
                        {"transform": [{"filter": "datum.tipo === 'capa'"}],
                         "mark": {"type": "rule", "strokeWidth": 2.5, "color": "#111111"},
                         "encoding": {"x": {"datum": 0, "type": "quantitative"}, "x2": {"datum": 0.364},
                                      "strokeDash": {"field": "banda", "type": "nominal", "scale": {"domain": ["UV-B", "UV-A", "PAR"], "range": [[7, 3, 2, 3], [10, 5], [1, 0]]}, "legend": null}}},
                        {"transform": [{"filter": "datum.orden === 1"}],
                         "mark": {"type": "text", "align": "left", "baseline": "middle", "font": "Lato", "fontSize": 12.5, "lineBreak": "\n", "lineHeight": 17, "dy": -8.5, "color": "#000000"},
                         "encoding": {"x": {"datum": 0.46, "type": "quantitative"}, "text": {"field": "etiqueta", "type": "nominal"}}},
                        {"transform": [{"filter": "datum.orden > 1"}],
                         "mark": {"type": "text", "align": "left", "baseline": "middle", "font": "Lato", "fontSize": 12.5, "color": "#000000"},
                         "encoding": {"x": {"datum": 0.46, "type": "quantitative"}, "text": {"field": "etiqueta", "type": "nominal"}}}
                      ]
                    }
                  ]
                }
              ]
            }
          ]
        }
      ]
    },
    {
      "width": 973,
      "height": 40,
      "data": {"values": [{}]},
      "layer": [
        {"mark": {"type": "rule", "color": "#2e3192", "strokeWidth": 3},
         "encoding": {"x": {"datum": 0.2425, "type": "quantitative", "scale": {"domain": [0, 1], "nice": false}, "axis": null}, "x2": {"datum": 0.3885},
                      "y": {"datum": 0.85, "type": "quantitative", "scale": {"domain": [0, 1], "reverse": true, "nice": false}, "axis": null}}},
        {"mark": {"type": "rule", "color": "#2e3192", "strokeWidth": 3},
         "encoding": {"x": {"datum": 0.6475, "type": "quantitative"}, "x2": {"datum": 0.781}, "y": {"datum": 0.85, "type": "quantitative"}}},
        {"mark": {"type": "point", "shape": "M 1 -1 L 0 0 L 1 1", "filled": false, "size": 300, "strokeWidth": 3.5, "color": "#2e3192", "opacity": 1},
         "encoding": {"x": {"datum": 0.2425, "type": "quantitative"}, "y": {"datum": 0.85, "type": "quantitative"}}},
        {"mark": {"type": "point", "shape": "M -1 -1 L 0 0 L -1 1", "filled": false, "size": 300, "strokeWidth": 3.5, "color": "#2e3192", "opacity": 1},
         "encoding": {"x": {"datum": 0.781, "type": "quantitative"}, "y": {"datum": 0.85, "type": "quantitative"}}},
        {"mark": {"type": "text", "text": "Temperatura (ºC)", "font": "Liberation Sans", "fontSize": 20, "align": "center", "baseline": "middle", "color": "#000000"},
         "encoding": {"x": {"datum": 0.485, "type": "quantitative"}, "y": {"datum": 0.75, "type": "quantitative"}}}
      ]
    }
  ]
}
